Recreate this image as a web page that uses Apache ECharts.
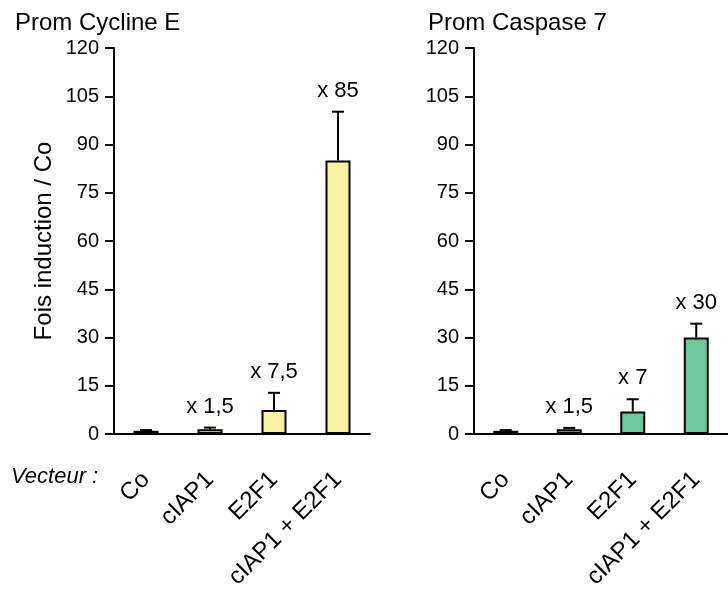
<!DOCTYPE html>
<html>
<head>
<meta charset="utf-8">
<script src="https://cdn.jsdelivr.net/npm/echarts@6/dist/echarts.min.js"></script>
<style>
  html, body { margin: 0; padding: 0; background: #fff; }
  #chart { width: 728px; height: 595px; }
</style>
</head>
<body>
<div id="chart"></div>
<script>
// Reporter assay: fold induction relative to empty vector (Co)
const categories = ['Co', 'cIAP1', 'E2F1', 'cIAP1 + E2F1'];
const yTicks = [0, 15, 30, 45, 60, 75, 90, 105, 120];

// Cycline E promoter
const cyclineMean = [1, 1.5, 7.5, 85];
const cyclineErrTop = [1.2, 2.0, 12.8, 100.2];
const cyclineLabels = ['', 'x 1,5', 'x 7,5', 'x 85'];

// Caspase 7 promoter
const caspaseMean = [1, 1.5, 7, 30];
const caspaseErrTop = [1.2, 1.9, 10.8, 34.3];
const caspaseLabels = ['', 'x 1,5', 'x 7', 'x 30'];

const FONT = 'Liberation Sans, Arial, Helvetica, sans-serif';

function errorBarSeries(axisIdx, means, tops, labels) {
  return {
    type: 'custom',
    xAxisIndex: axisIdx,
    yAxisIndex: axisIdx,
    z: 5,
    data: means.map((m, i) => [i, m, tops[i]]),
    renderItem: function (params, api) {
      const base = api.coord([api.value(0), api.value(1)]);
      const top = api.coord([api.value(0), api.value(2)]);
      const cap = 6;
      const lbl = labels[params.dataIndex];
      const children = [
        { type: 'line', shape: { x1: base[0], y1: base[1], x2: top[0], y2: top[1] },
          style: { stroke: '#000', lineWidth: 2 } },
        { type: 'line', shape: { x1: top[0] - cap, y1: top[1], x2: top[0] + cap, y2: top[1] },
          style: { stroke: '#000', lineWidth: 2 } }
      ];
      if (lbl) {
        children.push({
          type: 'text',
          style: { text: lbl, x: top[0], y: top[1] - 10, align: 'center', verticalAlign: 'bottom',
                   fill: '#000', font: '22px ' + FONT }
        });
      }
      return { type: 'group', children: children };
    }
  };
}

function xAxisDef(gridIndex) {
  return {
    type: 'category',
    gridIndex: gridIndex,
    data: categories,
    axisLine: { lineStyle: { color: '#000', width: 2 } },
    axisTick: { alignWithLabel: true, length: 9, lineStyle: { color: '#000', width: 2 } },
    axisLabel: { rotate: 45, margin: 42, color: '#000', fontSize: 24, fontFamily: FONT, interval: 0 }
  };
}

function yAxisDef(gridIndex, name) {
  return {
    type: 'value',
    gridIndex: gridIndex,
    min: yTicks[0],
    max: yTicks[yTicks.length - 1],
    interval: yTicks[1] - yTicks[0],
    name: name,
    nameLocation: 'middle',
    nameGap: 58,
    nameTextStyle: { color: '#000', fontSize: 24, fontFamily: FONT },
    axisLine: { show: true, lineStyle: { color: '#000', width: 2 } },
    axisTick: { show: true, length: 9, lineStyle: { color: '#000', width: 2 } },
    axisLabel: { margin: 15, color: '#000', fontSize: 20, fontFamily: FONT },
    splitLine: { show: false }
  };
}

const chart = echarts.init(document.getElementById('chart'), null, { renderer: 'canvas' });
chart.setOption({
  backgroundColor: '#fff',
  animation: false,
  title: [
    { text: 'Prom Cycline E', left: 10, top: 6,
      textStyle: { color: '#000', fontSize: 24, fontWeight: 'normal', fontFamily: FONT } },
    { text: 'Prom Caspase 7', left: 423, top: 6,
      textStyle: { color: '#000', fontSize: 24, fontWeight: 'normal', fontFamily: FONT } }
  ],
  grid: [
    { left: 114, top: 48, width: 256, height: 386 },
    { left: 474, top: 48, width: 256, height: 386 }
  ],
  xAxis: [xAxisDef(0), xAxisDef(1)],
  yAxis: [yAxisDef(0, 'Fois induction / Co'), yAxisDef(1, '')],
  graphic: [
    { type: 'text', left: 11, top: 466,
      style: { text: 'Vecteur :', fill: '#000', font: 'italic 22px ' + FONT } }
  ],
  series: [
    { type: 'bar', xAxisIndex: 0, yAxisIndex: 0, data: cyclineMean, barWidth: 25,
      itemStyle: { color: '#f8f4a4', borderColor: '#000', borderWidth: 2 } },
    errorBarSeries(0, cyclineMean, cyclineErrTop, cyclineLabels),
    { type: 'bar', xAxisIndex: 1, yAxisIndex: 1, data: caspaseMean, barWidth: 25,
      itemStyle: { color: '#6fc7a0', borderColor: '#000', borderWidth: 2 } },
    errorBarSeries(1, caspaseMean, caspaseErrTop, caspaseLabels)
  ]
});
</script>
</body>
</html>
